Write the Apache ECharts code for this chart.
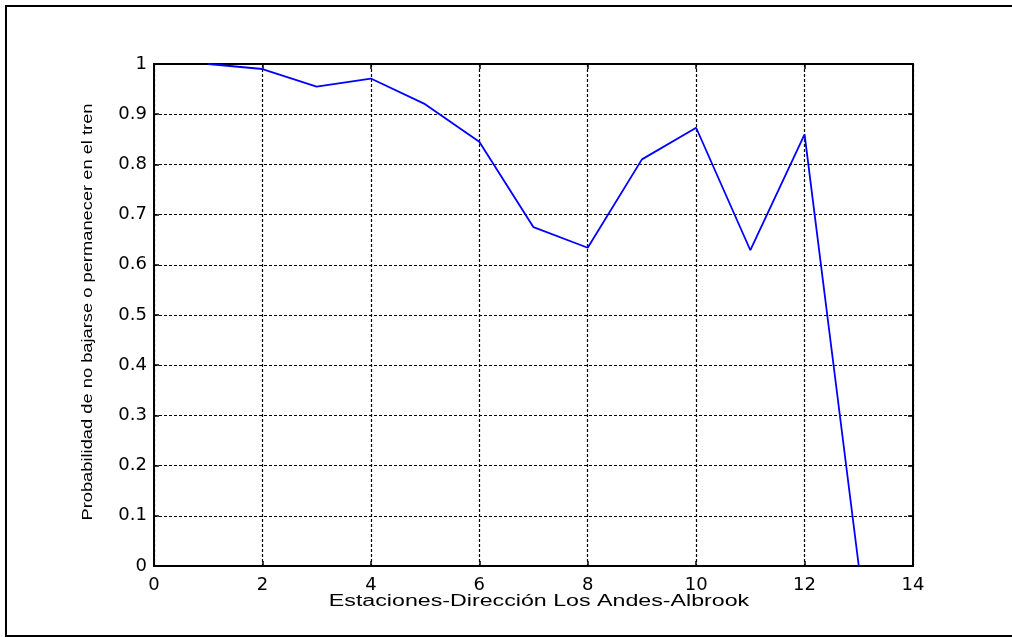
<!DOCTYPE html>
<html>
<head>
<meta charset="utf-8">
<script src="https://cdn.jsdelivr.net/npm/echarts@6/dist/echarts.min.js"></script>
<style>
html,body{margin:0;padding:0;background:#fff;overflow:hidden;}
#chart{width:1012px;height:637px;}
</style>
</head>
<body>
<div id="chart"></div>
<script>
var stations = [1, 2, 3, 4, 5, 6, 7, 8, 9, 10, 11, 12, 13];
var probability = [1.0, 0.99, 0.955, 0.971, 0.92, 0.845, 0.675, 0.634, 0.81, 0.873, 0.629, 0.86, 0];
var xTitle = 'Estaciones-Dirección Los Andes-Albrook';
var yTitle = 'Probabilidad de no bajarse o permanecer en el tren';

var points = stations.map(function (s, i) { return [s, probability[i]]; });

var chart = echarts.init(document.getElementById('chart'), null, {renderer: 'canvas'});
var gridLine = {show: true, lineStyle: {color: '#000', width: 1.2, type: [3, 2]}};
var tickFont = {color: '#000', fontFamily: 'DejaVu Sans', fontSize: 18};
chart.setOption({
  animation: false,
  backgroundColor: '#fff',
  grid: {left: 154, right: 99, top: 64, bottom: 71, containLabel: false},
  xAxis: [{
    type: 'value', min: 0, max: 14, interval: 2, position: 'bottom',
    axisLine: {show: true, onZero: false, lineStyle: {color: '#000', width: 2}},
    axisTick: {show: true, inside: true, length: 5, lineStyle: {color: '#000', width: 1.5}},
    axisLabel: Object.assign({margin: 10}, tickFont),
    splitLine: gridLine
  }, {
    type: 'value', min: 0, max: 14, interval: 2, position: 'top',
    axisLine: {show: true, onZero: false, lineStyle: {color: '#000', width: 2}},
    axisTick: {show: true, inside: true, length: 5, lineStyle: {color: '#000', width: 1.5}},
    axisLabel: {show: false}, splitLine: {show: false}
  }],
  yAxis: [{
    type: 'value', min: 0, max: 1, interval: 0.1, position: 'left',
    axisLine: {show: true, onZero: false, lineStyle: {color: '#000', width: 2}},
    axisTick: {show: true, inside: true, length: 5, lineStyle: {color: '#000', width: 1.5}},
    axisLabel: Object.assign({margin: 7}, tickFont),
    splitLine: gridLine
  }, {
    type: 'value', min: 0, max: 1, interval: 0.1, position: 'right',
    axisLine: {show: true, onZero: false, lineStyle: {color: '#000', width: 2}},
    axisTick: {show: true, inside: true, length: 5, lineStyle: {color: '#000', width: 1.5}},
    axisLabel: {show: false}, splitLine: {show: false}
  }],
  series: [{
    type: 'line', xAxisIndex: 0, yAxisIndex: 0,
    data: points, symbol: 'none', smooth: false,
    lineStyle: {color: '#0000ff', width: 1.8}
  }],
  graphic: [
    {type: 'polyline', silent: true,
     shape: {points: [[1100, 6], [6, 6], [6, 636], [1100, 636]]},
     style: {fill: 'none', stroke: '#000', lineWidth: 2}},
    {type: 'text', x: 539, y: 602, scaleX: 1.45, silent: true,
     style: {text: xTitle, fill: '#000', font: '16px "Liberation Sans"', textAlign: 'center', textVerticalAlign: 'middle'}},
    {type: 'text', x: 88, y: 312, rotation: Math.PI / 2, scaleX: 1.22, silent: true,
     style: {text: yTitle, fill: '#000', font: '15px "Liberation Sans"', textAlign: 'center', textVerticalAlign: 'middle'}}
  ]
});
</script>
</body>
</html>
